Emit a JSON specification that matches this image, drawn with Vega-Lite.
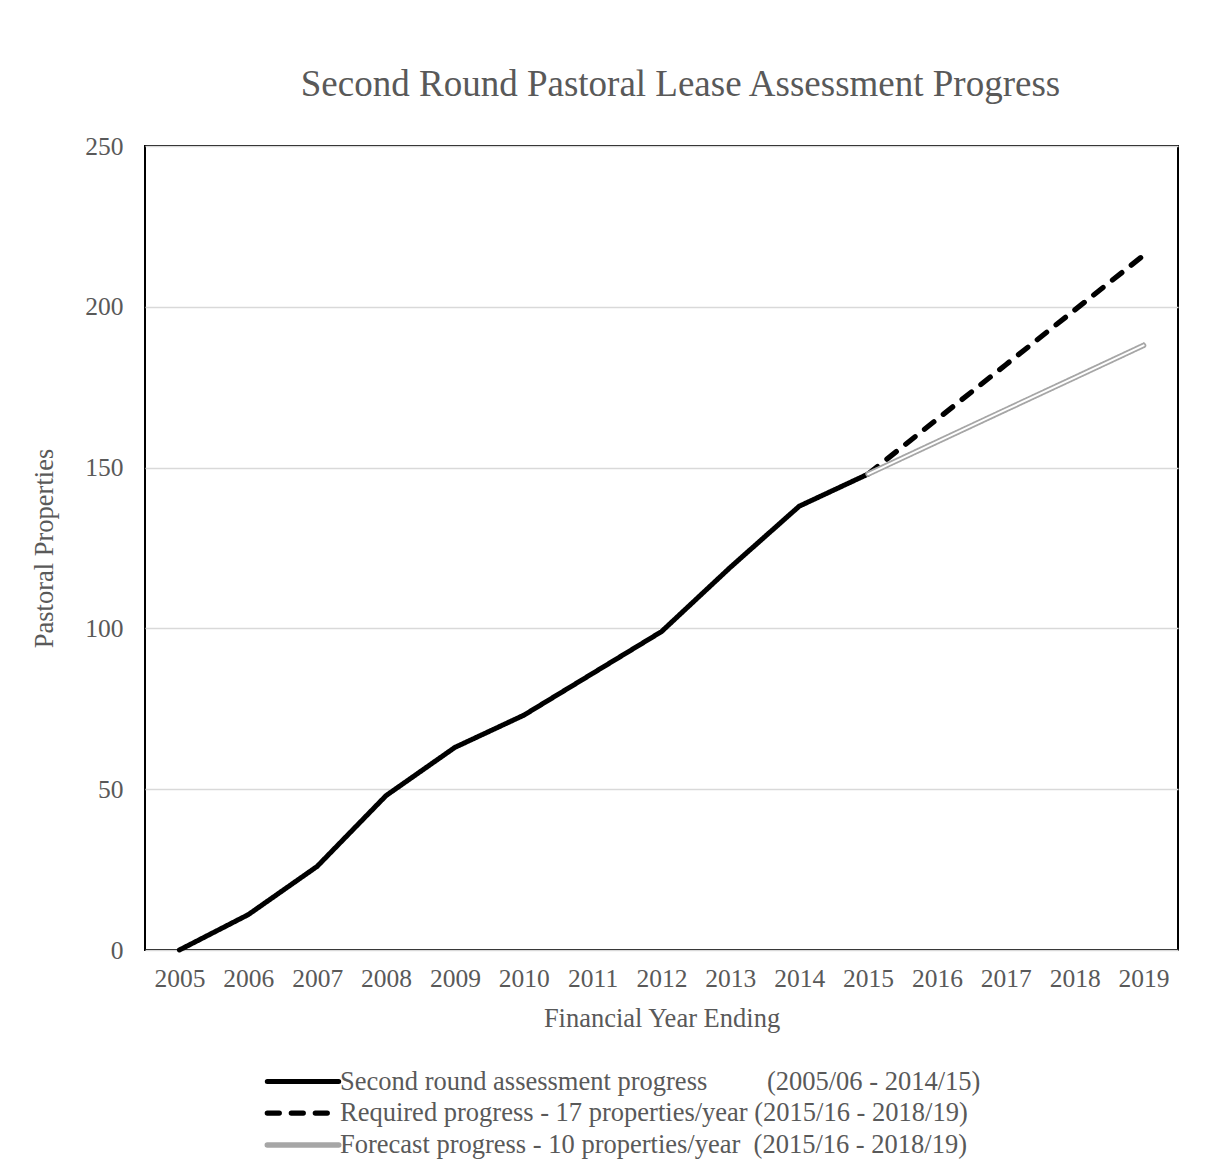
{
  "$schema": "https://vega.github.io/schema/vega-lite/v6.json",
  "width": 1033,
  "height": 804,
  "autosize": {"type": "none"},
  "padding": {"left": 145, "top": 146, "right": 28, "bottom": 219},
  "background": "white",
  "title": {
    "text": "Second Round Pastoral Lease Assessment Progress",
    "font": "Liberation Serif",
    "fontSize": 37,
    "fontWeight": "normal",
    "color": "#595959",
    "anchor": "middle",
    "offset": 30,
    "dx": 19
  },
  "config": {
    "font": "Liberation Serif",
    "view": {"stroke": "black", "strokeWidth": 2},
    "axis": {
      "labelFont": "Liberation Serif",
      "titleFont": "Liberation Serif",
      "labelColor": "#595959",
      "titleColor": "#595959",
      "titleFontWeight": "normal",
      "domain": false,
      "ticks": false
    },
    "legend": {
      "labelFont": "Liberation Serif",
      "labelColor": "#595959"
    }
  },
  "data": {
    "values": [
      {"series": "Second round assessment progress\u00a0\u00a0\u00a0\u00a0\u00a0\u00a0\u00a0\u00a0\u00a0(2005/06 - 2014/15)", "year": "2005", "value": 0},
      {"series": "Second round assessment progress\u00a0\u00a0\u00a0\u00a0\u00a0\u00a0\u00a0\u00a0\u00a0(2005/06 - 2014/15)", "year": "2006", "value": 11},
      {"series": "Second round assessment progress\u00a0\u00a0\u00a0\u00a0\u00a0\u00a0\u00a0\u00a0\u00a0(2005/06 - 2014/15)", "year": "2007", "value": 26},
      {"series": "Second round assessment progress\u00a0\u00a0\u00a0\u00a0\u00a0\u00a0\u00a0\u00a0\u00a0(2005/06 - 2014/15)", "year": "2008", "value": 48},
      {"series": "Second round assessment progress\u00a0\u00a0\u00a0\u00a0\u00a0\u00a0\u00a0\u00a0\u00a0(2005/06 - 2014/15)", "year": "2009", "value": 63},
      {"series": "Second round assessment progress\u00a0\u00a0\u00a0\u00a0\u00a0\u00a0\u00a0\u00a0\u00a0(2005/06 - 2014/15)", "year": "2010", "value": 73},
      {"series": "Second round assessment progress\u00a0\u00a0\u00a0\u00a0\u00a0\u00a0\u00a0\u00a0\u00a0(2005/06 - 2014/15)", "year": "2011", "value": 86},
      {"series": "Second round assessment progress\u00a0\u00a0\u00a0\u00a0\u00a0\u00a0\u00a0\u00a0\u00a0(2005/06 - 2014/15)", "year": "2012", "value": 99},
      {"series": "Second round assessment progress\u00a0\u00a0\u00a0\u00a0\u00a0\u00a0\u00a0\u00a0\u00a0(2005/06 - 2014/15)", "year": "2013", "value": 119},
      {"series": "Second round assessment progress\u00a0\u00a0\u00a0\u00a0\u00a0\u00a0\u00a0\u00a0\u00a0(2005/06 - 2014/15)", "year": "2014", "value": 138},
      {"series": "Second round assessment progress\u00a0\u00a0\u00a0\u00a0\u00a0\u00a0\u00a0\u00a0\u00a0(2005/06 - 2014/15)", "year": "2015", "value": 148},
      {"series": "Required progress - 17 properties/year (2015/16 - 2018/19)", "year": "2015", "value": 148},
      {"series": "Required progress - 17 properties/year (2015/16 - 2018/19)", "year": "2016", "value": 165},
      {"series": "Required progress - 17 properties/year (2015/16 - 2018/19)", "year": "2017", "value": 182},
      {"series": "Required progress - 17 properties/year (2015/16 - 2018/19)", "year": "2018", "value": 199},
      {"series": "Required progress - 17 properties/year (2015/16 - 2018/19)", "year": "2019", "value": 216},
      {"series": "Forecast progress - 10 properties/year\u00a0\u00a0(2015/16 - 2018/19)", "year": "2015", "value": 148},
      {"series": "Forecast progress - 10 properties/year\u00a0\u00a0(2015/16 - 2018/19)", "year": "2016", "value": 158},
      {"series": "Forecast progress - 10 properties/year\u00a0\u00a0(2015/16 - 2018/19)", "year": "2017", "value": 168},
      {"series": "Forecast progress - 10 properties/year\u00a0\u00a0(2015/16 - 2018/19)", "year": "2018", "value": 178},
      {"series": "Forecast progress - 10 properties/year\u00a0\u00a0(2015/16 - 2018/19)", "year": "2019", "value": 188}
    ]
  },
  "encoding": {
    "x": {
      "field": "year",
      "type": "ordinal",
      "scale": {"type": "point", "padding": 0.5},
      "axis": {
        "title": "Financial Year Ending",
        "labelAngle": 0,
        "labelFontSize": 25.5,
        "titleFontSize": 26.5,
        "labelPadding": 16,
        "titlePadding": 14,
        "grid": false
      }
    },
    "y": {
      "field": "value",
      "type": "quantitative",
      "scale": {"domain": [0, 250], "nice": false},
      "axis": {
        "title": "Pastoral Properties",
        "values": [0, 50, 100, 150, 200, 250],
        "labelFontSize": 25.5,
        "titleFontSize": 26.5,
        "labelPadding": 22,
        "titlePadding": 26,
        "grid": true,
        "gridColor": "#d9d9d9",
        "gridWidth": 1.5
      }
    }
  },
  "layer": [
    {
      "mark": {"type": "line", "strokeCap": "round", "strokeJoin": "round"},
      "encoding": {
        "color": {
          "field": "series",
          "type": "nominal",
          "scale": {
            "domain": [
              "Second round assessment progress\u00a0\u00a0\u00a0\u00a0\u00a0\u00a0\u00a0\u00a0\u00a0(2005/06 - 2014/15)",
              "Required progress - 17 properties/year (2015/16 - 2018/19)",
              "Forecast progress - 10 properties/year\u00a0\u00a0(2015/16 - 2018/19)"
            ],
            "range": ["#000000", "#000000", "#a6a6a6"]
          },
          "legend": {
            "title": null,
            "orient": "none",
            "legendX": 141,
            "legendY": 919,
            "direction": "vertical",
            "symbolType": "M-2.55,0H2.55",
            "symbolSize": 784,
            "symbolStrokeWidth": 5,
            "labelFontSize": 26.5,
            "labelLimit": 1000,
            "labelOffset": 20,
            "rowPadding": 1,
            "encode": {"symbols": {"update": {"strokeCap": {"value": "round"}}}}
          }
        },
        "strokeDash": {
          "field": "series",
          "type": "nominal",
          "scale": {
            "domain": [
              "Second round assessment progress\u00a0\u00a0\u00a0\u00a0\u00a0\u00a0\u00a0\u00a0\u00a0(2005/06 - 2014/15)",
              "Required progress - 17 properties/year (2015/16 - 2018/19)",
              "Forecast progress - 10 properties/year\u00a0\u00a0(2015/16 - 2018/19)"
            ],
            "range": [[1, 0], [12, 12], [1, 0]]
          },
          "legend": null
        },
        "strokeWidth": {
          "field": "series",
          "type": "nominal",
          "scale": {
            "domain": [
              "Second round assessment progress\u00a0\u00a0\u00a0\u00a0\u00a0\u00a0\u00a0\u00a0\u00a0(2005/06 - 2014/15)",
              "Required progress - 17 properties/year (2015/16 - 2018/19)",
              "Forecast progress - 10 properties/year\u00a0\u00a0(2015/16 - 2018/19)"
            ],
            "range": [5, 5.5, 5]
          },
          "legend": null
        }
      }
    },
    {
      "transform": [{"filter": "indexof(datum.series, 'Forecast') === 0"}],
      "mark": {"type": "line", "color": "white", "strokeWidth": 2, "strokeCap": "round"},
      "encoding": {}
    }
  ]
}
